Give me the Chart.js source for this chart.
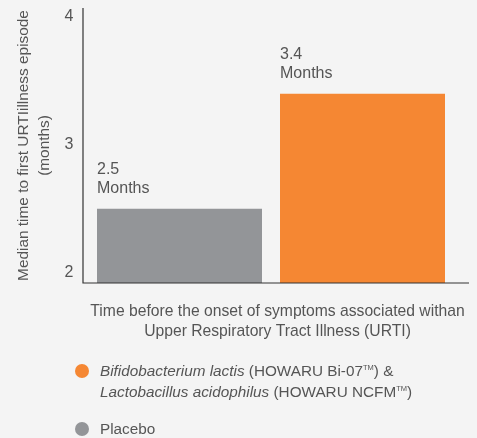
<!DOCTYPE html>
<html><head><meta charset="utf-8">
<script src="https://cdn.jsdelivr.net/npm/chart.js@4"></script>
<style>
html,body{margin:0;padding:0;background:#f4f4f4;}
#wrap{position:relative;width:477px;height:438px;overflow:hidden;background:#f4f4f4;}
canvas{position:absolute;left:0;top:0;}
.leg{position:absolute;left:100px;font-family:"Liberation Sans",Arial,sans-serif;font-size:15.3px;line-height:21px;color:#555;white-space:nowrap;}
.leg sup{font-size:7.5px;vertical-align:6px;line-height:0;}
.dot{position:absolute;width:14px;height:14px;border-radius:50%;}
</style></head>
<body><div id="wrap"><canvas id="c" width="477" height="438"></canvas><div id="legend"></div></div>
<script>
const categories = ["Placebo", "HOWARU Bi-07 & HOWARU NCFM"];
const values = [2.5, 3.4];
const valueLabels = [["2.5", "Months"], ["3.4", "Months"]];
const barColors = ["#939598", "#f58733"];
const yTicks = [2, 3, 4];
const yTitle = ["Median time to first URTIillness episode", "(months)"];
const xTitle = ["Time before the onset of symptoms associated withan", "Upper Respiratory Tract Illness (URTI)"];
const legendItems = [
  {color: "#f58733", lines: [[["i","Bifidobacterium lactis"],["n"," (HOWARU Bi-07"],["s","TM"],["n",") &"]], [["i","Lactobacillus acidophilus"],["n"," (HOWARU NCFM"],["s","TM"],["n",")"]]]},
  {color: "#939598", lines: [[["n","Placebo"]]]}
];
const legendTops = [360, 418];

const FONT = '"Liberation Sans", Arial, sans-serif';
const TXT = '#555';

// legend (HTML text)
const legEl = document.getElementById('legend');
legendItems.forEach((it, k) => {
  const dot = document.createElement('div');
  dot.className = 'dot';
  dot.style.background = it.color;
  dot.style.left = '75px';
  dot.style.top = (legendTops[k] + 10.5 - 7) + 'px';
  legEl.appendChild(dot);
  const d = document.createElement('div');
  d.className = 'leg';
  d.style.top = legendTops[k] + 'px';
  d.innerHTML = it.lines.map(line => line.map(([s, t]) => s === 'i' ? '<i>' + t + '</i>' : s === 's' ? '<sup>' + t + '</sup>' : t).join('')).join('<br>');
  legEl.appendChild(d);
});

const custom = {
  id: 'custom',
  afterDatasetsDraw(chart) {
    const {ctx, chartArea: a} = chart;
    ctx.save();
    ctx.strokeStyle = '#333';
    ctx.lineWidth = 1.2;
    const axL = a.left - 5, axR = a.right + 15;
    ctx.beginPath();
    ctx.moveTo(axL, a.top);
    ctx.lineTo(axL, a.bottom);
    ctx.lineTo(axR, a.bottom);
    ctx.stroke();
    ctx.fillStyle = TXT;
    ctx.textBaseline = 'middle';
    // x axis title
    ctx.font = '15.7px ' + FONT;
    ctx.textAlign = 'center';
    xTitle.forEach((t, j) => ctx.fillText(t, (axL + axR) / 2 + 1.5, a.bottom + 29 + j * 20));
    // value labels
    const meta = chart.getDatasetMeta(0);
    ctx.font = '16px ' + FONT;
    ctx.textAlign = 'left';
    meta.data.forEach((bar, i) => {
      const left = bar.x - bar.width / 2;
      valueLabels[i].forEach((t, j) => ctx.fillText(t, left, bar.y - 39 + j * 19));
    });
    ctx.restore();
  }
};

new Chart(document.getElementById('c'), {
  type: 'bar',
  data: {
    labels: categories,
    datasets: [{
      data: values,
      backgroundColor: barColors,
      borderWidth: 0,
      barPercentage: 0.9016,
      categoryPercentage: 1
    }]
  },
  options: {
    responsive: false,
    animation: false,
    devicePixelRatio: 1,
    layout: {padding: {top: 8, right: 23, bottom: 95, left: 0}},
    plugins: {legend: {display: false}, tooltip: {enabled: false}},
    scales: {
      x: {
        grid: {display: false, drawTicks: false},
        border: {display: false},
        ticks: {display: false},
        title: {display: false},
        afterFit(s) { s.height = 60; s.paddingLeft = 0; s.paddingRight = 0; }
      },
      y: {
        min: 1.92,
        max: 4.07,
        grid: {display: false, drawTicks: false},
        border: {display: false},
        afterBuildTicks(s) { s.ticks = yTicks.map(v => ({value: v})); },
        ticks: {color: TXT, padding: 14.5, font: {family: FONT, size: 16}},
        title: {display: true, text: yTitle, color: TXT, font: {family: FONT, size: 15.4, lineHeight: 21/15.4}, padding: {top: 13.5, bottom: 0}},
        afterFit(s) { s.width = 88; s.paddingTop = 0; s.paddingBottom = 0; }
      }
    }
  },
  plugins: [custom]
});
</script>
</body></html>
